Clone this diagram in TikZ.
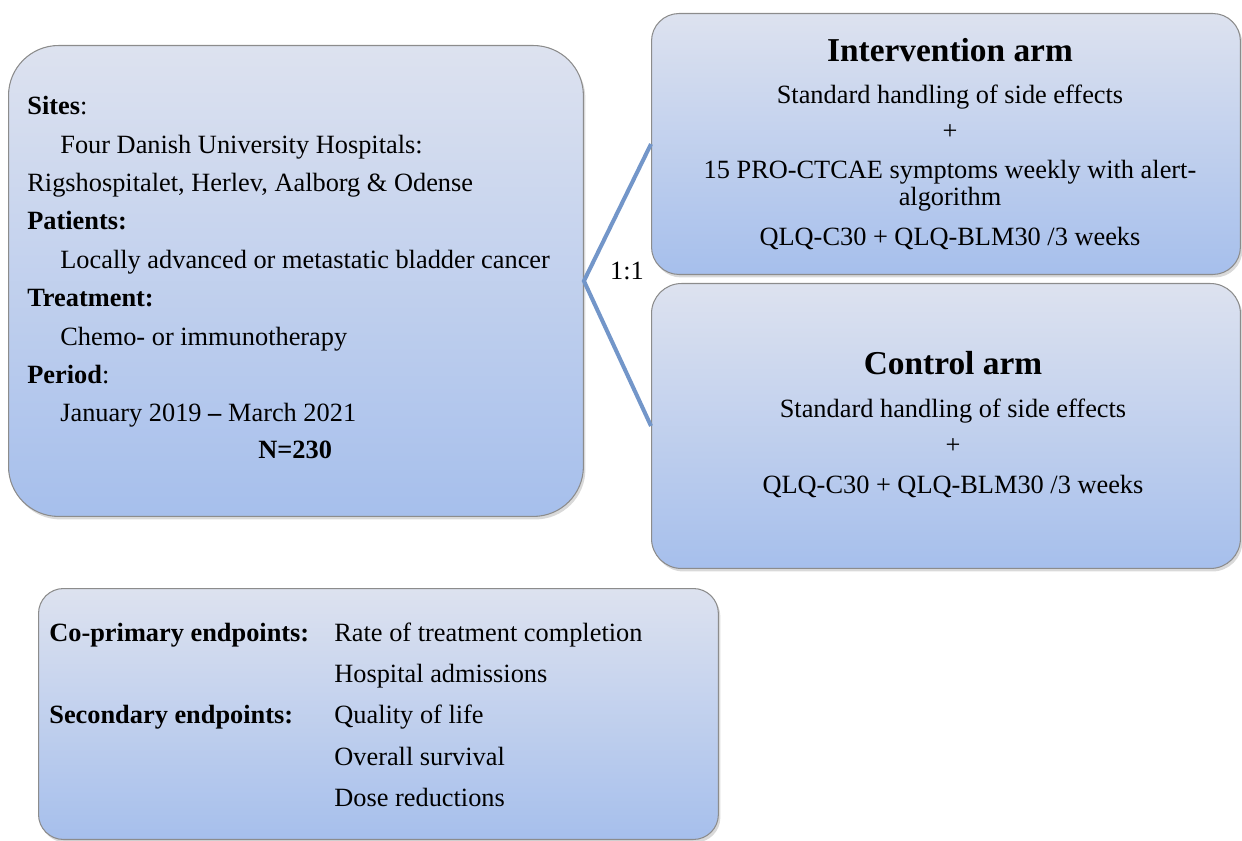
\documentclass[tikz,border=0pt]{standalone}
\usepackage{fontspec}
\setmainfont{Liberation Serif}
\usetikzlibrary{shadows}
\definecolor{boxtop}{HTML}{DDE2EF}
\definecolor{boxbottom}{HTML}{A6BFEC}
\definecolor{splitblue}{HTML}{7396C9}
\tikzset{
  armbox/.style={draw=black!45, line width=0.6pt, rounded corners=#1, top color=boxtop, bottom color=boxbottom,
    drop shadow={opacity=0.3, shadow xshift=0.04cm, shadow yshift=-0.06cm}, anchor=north west, inner sep=0pt},
  txt/.style={anchor=base west, inner sep=0pt, font=\fontsize{15}{18}\selectfont},
  ctxt/.style={anchor=base, inner sep=0pt, align=center, font=\fontsize{15}{15.5}\selectfont},
  head/.style={anchor=base, inner sep=0pt, font=\fontsize{19}{22}\selectfont\bfseries},
  split/.style={draw=splitblue, line width=2.3pt}
}
\begin{document}
\begin{tikzpicture}[x=0.02cm, y=-0.02cm]
			\useasboundingbox (0,0) rectangle (1242,841);
			
			% boxes
			\node[armbox=1cm, minimum width=11.5cm, minimum height=9.42cm] (study) at (8,45) {};
			\node[armbox=0.55cm, minimum width=11.78cm, minimum height=5.22cm] (interv) at (651,13) {};
			\node[armbox=0.6cm, minimum width=11.78cm, minimum height=5.7cm] (control) at (651,283) {};
			\node[armbox=0.5cm, minimum width=13.6cm, minimum height=5.02cm] (endpoints) at (38,588) {};
			
			% randomisation
			\draw[split] (interv.west) -- (study.east) -- (control.west);
			\node[ctxt] (ratio) at (627,280) {1:1};
			
			% study box
			\node[txt] (sites) at (27,115) {\textbf{Sites}:};
			\node[txt] (hosp) at (60,154) {Four Danish University Hospitals:};
			\node[txt] (hospnames) at (27,192) {Rigshospitalet, Herlev, Aalborg \& Odense};
			\node[txt] (patients) at (27,230) {\textbf{Patients:}};
			\node[txt] (cancer) at (60,269) {Locally advanced or metastatic bladder cancer};
			\node[txt] (treat) at (27,307) {\textbf{Treatment:}};
			\node[txt] (therapy) at (60,346) {Chemo- or immunotherapy};
			\node[txt] (period) at (27,384) {\textbf{Period}:};
			\node[txt] (dates) at (60,421) {January 2019 \textbf{--} March 2021};
			\node[txt] (n) at (258,459) {\textbf{N=230}};
			
			% intervention arm
			\node[head] (intervhead) at (950,62) {Intervention arm};
			\node[ctxt] (intervstd) at (950,104) {Standard handling of side effects};
			\node[ctxt] (intervplus) at (950,140) {+};
			\node[ctxt] (procta) at (950,206) {15 PRO-CTCAE symptoms weekly with alert-\\algorithm};
			\node[ctxt] (intervqlq) at (950,246) {QLQ-C30 + QLQ-BLM30 /3 weeks};
			
			% control arm
			\node[head] (controlhead) at (953,375) {Control arm};
			\node[ctxt] (controlstd) at (953,418) {Standard handling of side effects};
			\node[ctxt] (controlplus) at (953,454) {+};
			\node[ctxt] (controlqlq) at (953,494) {QLQ-C30 + QLQ-BLM30 /3 weeks};
			
			% endpoints
			\node[txt] (coprim) at (49,641) {\textbf{Co-primary endpoints:}};
			\node[txt] (second) at (49,723) {\textbf{Secondary endpoints:}};
			\node[txt] (completion) at (334,641) {Rate of treatment completion};
			\node[txt] (admissions) at (334,682) {Hospital admissions};
			\node[txt] (qol) at (334,723) {Quality of life};
			\node[txt] (survival) at (334,765) {Overall survival};
			\node[txt] (dose) at (334,806) {Dose reductions};
			
\end{tikzpicture}
\end{document}
